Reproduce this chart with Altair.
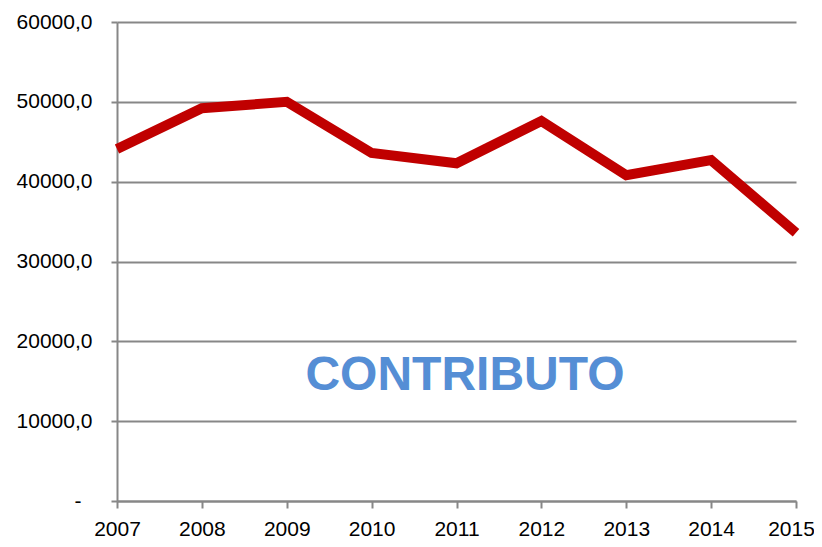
import altair as alt
import pandas as pd

years = [2007, 2008, 2009, 2010, 2011, 2012, 2013, 2014, 2015]
values = [44100, 49200, 50000, 43600, 42300, 47600, 40800, 42700, 33600]
y_ticks = [0, 10000, 20000, 30000, 40000, 50000, 60000]
label_text = ["CONTRIBUTO"]
label_x = [2011.1]
label_y = [15700]

df = pd.DataFrame({"year": years, "value": values})
ann = pd.DataFrame({"text": label_text, "x": label_x, "y": label_y})

grid_color = "#878787"

x_enc = alt.X(
    "year:Q",
    scale=alt.Scale(domain=[2007, 2015], nice=False, zero=False),
    axis=alt.Axis(
        values=years, format="d", title=None, grid=False,
        domainColor=grid_color, domainWidth=2,
        tickColor=grid_color, tickWidth=2, tickSize=7,
        labelFont="Liberation Sans", labelFontSize=21, labelColor="#000000",
        labelPadding=10, labelFlush=False,
        labelOffset={"condition": {"test": "datum.value == 2015", "value": -5}, "value": 0},
    ),
)
y_enc = alt.Y(
    "value:Q",
    scale=alt.Scale(domain=[0, 60000], nice=False),
    axis=alt.Axis(
        values=y_ticks, title=None, grid=True,
        gridColor=grid_color, gridWidth=2,
        domainColor=grid_color, domainWidth=2,
        tickColor=grid_color, tickWidth=2, tickSize=6,
        labelFont="Liberation Sans", labelFontSize=21, labelColor="#000000",
        labelPadding={"condition": {"test": "datum.value == 0", "value": 30}, "value": 19},
        labelExpr="datum.value == 0 ? '-' : replace(format(datum.value, '.1f'), '.', ',')",
    ),
)

line = alt.Chart(df).mark_line(color="#C00000", strokeWidth=10, strokeJoin="miter").encode(
    x=x_enc, y=y_enc
)

text = alt.Chart(ann).mark_text(
    font="Liberation Sans", fontWeight="bold", fontSize=48, color="#558ED5",
    align="center", baseline="middle",
).encode(x=alt.X("x:Q"), y=alt.Y("y:Q"), text="text:N")

chart = alt.layer(line, text).properties(
    width=679, height=479,
    background="#ffffff",
    autosize=alt.AutoSizeParams(type="none"),
    padding={"left": 109, "top": 14, "right": 18, "bottom": 38},
).configure_view(stroke=None, strokeWidth=0)

chart.save("out.html", embed_options={"renderer": "svg", "actions": False})
